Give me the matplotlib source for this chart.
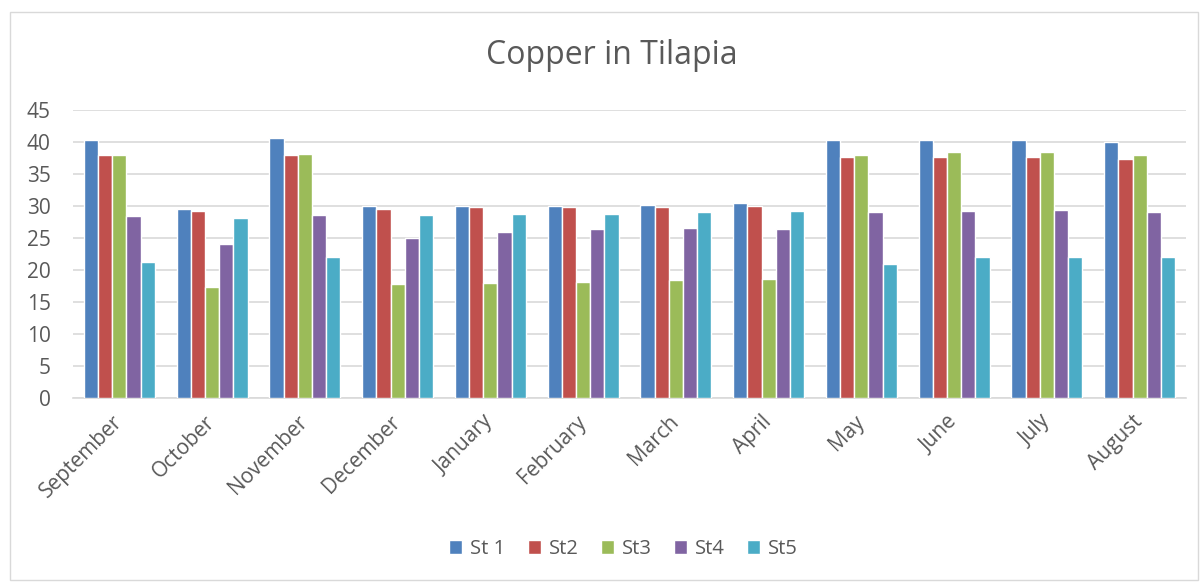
import numpy as np
import matplotlib
matplotlib.use('Agg')
import matplotlib.pyplot as plt
from matplotlib.patches import Rectangle

months = ['September', 'October', 'November', 'December', 'January', 'February',
          'March', 'April', 'May', 'June', 'July', 'August']
series_names = ['St 1', 'St2', 'St3', 'St4', 'St5']
st1 = [40.3, 29.6, 40.6, 30.0, 30.0, 30.0, 30.2, 30.4, 40.3, 40.3, 40.3, 40.0]
st2 = [37.9, 29.2, 38.0, 29.6, 29.8, 29.8, 29.8, 30.0, 37.6, 37.6, 37.6, 37.3]
st3 = [38.0, 17.3, 38.2, 17.8, 18.0, 18.2, 18.4, 18.6, 38.0, 38.4, 38.5, 38.0]
st4 = [28.4, 24.0, 28.6, 25.0, 26.0, 26.4, 26.6, 26.4, 29.0, 29.2, 29.3, 29.0]
st5 = [21.3, 28.2, 22.0, 28.6, 28.8, 28.8, 29.0, 29.2, 21.0, 22.0, 22.1, 22.1]
colors = ['#4F81BD', '#C0504D', '#9BBB59', '#8064A2', '#4BACC6']

plt.rcParams['font.family'] = ['Open Sans', 'DejaVu Sans']
text_color = '#595959'

fig = plt.figure(figsize=(12.04, 5.82), dpi=100)
ax = fig.add_axes([73 / 1204, 1 - 398 / 582, 1113 / 1204, 288 / 582])

# chart border
fig.patches.append(Rectangle((10 / 1204, 2 / 582), 1188 / 1204, 568 / 582,
                             transform=fig.transFigure, fill=False,
                             edgecolor='#D9D9D9', linewidth=1))

x = np.arange(len(months))
pitch = 0.153
for i, (vals, c, name) in enumerate(zip([st1, st2, st3, st4, st5], colors, series_names)):
    ax.bar(x + (i - 2) * pitch, vals, width=pitch, color=c, edgecolor='white',
           linewidth=1.0, label=name, zorder=3)

ax.set_xlim(-0.5, len(months) - 0.5)
ax.set_ylim(0, 45)
ax.set_yticks(range(0, 46, 5))
ax.grid(axis='y', color='#D9D9D9', linewidth=1.2, zorder=0)
for s in ['top', 'right', 'left']:
    ax.spines[s].set_visible(False)
ax.spines['bottom'].set_color('#D9D9D9')
ax.spines['bottom'].set_linewidth(1.2)
ax.tick_params(axis='both', length=0, colors=text_color, labelsize=15)
ax.tick_params(axis='y', pad=16)
ax.tick_params(axis='x', pad=15)
ax.set_xticks(x)
ax.set_xticklabels(months, rotation=45, ha='right', va='center',
                   rotation_mode='anchor')

fig.text(0.508, 1 - 56 / 582, 'Copper in Tilapia', ha='center', va='center',
         fontsize=23, color=text_color)

leg = fig.legend(loc='center', bbox_to_anchor=(0.518, 1 - 549 / 582), ncol=5,
                 frameon=False, fontsize=14.5, handlelength=0.65, handleheight=0.65,
                 handletextpad=0.4, columnspacing=1.1)
for t in leg.get_texts():
    t.set_color(text_color)

fig.savefig('out.png', dpi=100)
